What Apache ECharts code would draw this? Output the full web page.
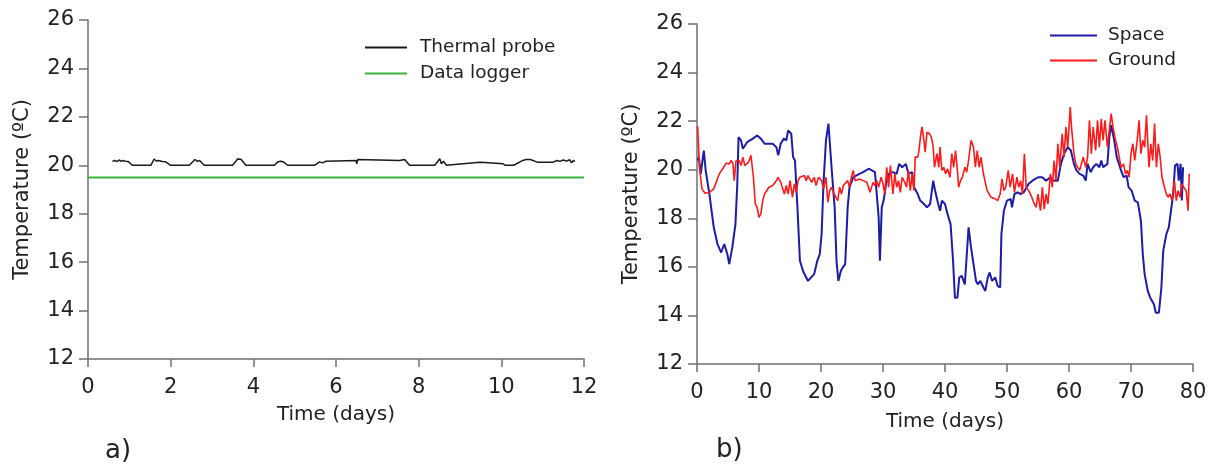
<!DOCTYPE html>
<html>
<head>
<meta charset="utf-8">
<script src="https://cdn.jsdelivr.net/npm/echarts@6/dist/echarts.min.js"></script>
<style>
html,body{margin:0;padding:0;background:#fff;}
#chart{width:1217px;height:468px;}
</style>
</head>
<body>
<div id="chart"></div>
<script>
// ---- Panel a) ----
const probeDays = [0.59,0.65,0.7,0.75,0.8,0.85,0.9,0.97,1.07,1.52,1.6,1.65,1.7,1.8,1.87,2.0,2.45,2.59,2.65,2.7,2.81,3.5,3.62,3.7,3.82,4.51,4.6,4.66,4.72,4.83,5.48,5.6,5.68,5.76,6.49,6.5,6.53,6.56,7.54,7.66,7.78,8.39,8.51,8.55,8.6,8.67,9.48,9.6,10.04,10.1,10.3,10.52,10.6,10.7,10.87,11.25,11.35,11.42,11.5,11.58,11.65,11.7,11.74,11.78];
const probeTemps = [20.16,20.2,20.15,20.22,20.16,20.2,20.17,20.16,20.0,20.0,20.26,20.18,20.2,20.16,20.15,20.0,20.0,20.24,20.16,20.2,20.0,20.0,20.26,20.25,20.0,20.0,20.15,20.17,20.15,20.0,20.0,20.14,20.1,20.17,20.2,20.06,20.24,20.18,20.2,20.24,20.0,20.0,20.27,20.06,20.17,20.0,20.13,20.12,20.06,20.0,20.0,20.2,20.24,20.24,20.13,20.13,20.2,20.16,20.22,20.17,20.23,20.1,20.2,20.15];
const loggerDays = [0, 12];
const loggerTemps = [19.5, 19.5];

// ---- Panel b) ----
const spaceDays = [0.1,0.3,0.6,1.1,1.4,2.0,2.7,3.3,3.9,4.4,4.9,5.2,5.7,6.2,6.5,6.7,7.1,7.4,8.1,9.0,9.7,10.3,10.9,12.2,12.8,13.1,13.5,14.0,14.4,14.7,15.2,15.5,15.8,16.2,16.6,17.1,17.9,18.9,19.4,19.8,20.1,20.4,20.8,21.2,21.7,22.2,22.5,22.8,23.2,23.5,23.9,24.3,24.6,25.2,26.2,26.8,27.7,28.7,29.0,29.3,29.5,29.8,30.1,30.5,30.9,31.6,32.2,32.6,33.1,33.7,34.1,34.7,35.0,35.6,36.0,36.6,37.1,37.6,38.1,38.4,38.9,39.2,39.5,40.0,40.4,40.9,41.3,41.6,42.0,42.3,42.7,43.2,43.5,43.8,44.2,44.6,45.0,45.3,45.7,46.2,46.5,46.9,47.2,47.6,48.1,48.5,48.9,49.1,49.5,50.0,50.6,50.8,51.2,51.7,52.2,52.7,53.5,54.1,55.0,55.7,56.3,57.0,57.6,58.2,58.7,59.2,59.8,60.3,60.8,61.2,61.7,62.3,62.7,63.0,63.5,63.9,64.4,64.9,65.2,65.5,66.2,66.5,66.8,67.3,67.7,68.4,68.8,69.3,69.6,70.1,70.6,71.1,71.6,71.9,72.2,72.7,73.1,73.7,74.0,74.5,74.9,75.2,75.7,76.1,76.4,76.8,77.1,77.5,77.7,78.0,78.2,78.4];
const spaceTemps = [20.38,20.52,19.83,20.79,19.97,19.0,17.63,16.94,16.59,16.94,16.52,16.11,16.8,17.76,19.42,21.34,21.21,20.86,21.14,21.28,21.41,21.28,21.07,21.07,20.93,20.59,21.07,21.28,21.21,21.62,21.48,20.52,20.38,18.45,16.25,15.83,15.42,15.7,16.25,16.52,17.35,19.42,21.21,21.9,20.1,18.45,16.25,15.42,15.83,15.97,16.11,18.45,19.28,19.69,19.83,19.9,20.04,19.9,19.83,18.04,16.25,18.45,18.73,19.42,19.83,19.9,19.83,20.24,20.1,20.24,19.83,19.9,19.28,19.0,18.73,18.59,18.45,18.59,19.55,19.14,18.59,18.31,18.73,18.59,18.18,17.76,16.25,14.73,14.73,15.56,15.63,15.28,15.28,17.63,16.8,16.11,15.42,15.28,15.42,15.15,15.01,15.56,15.77,15.42,15.56,15.21,15.15,17.35,18.31,18.73,18.8,18.45,19.0,19.07,19.0,19.07,19.42,19.55,19.69,19.69,19.55,19.69,19.55,19.55,20.24,20.66,20.93,20.79,20.24,19.97,19.83,19.76,19.55,20.24,19.9,20.1,20.24,20.1,20.38,20.1,20.24,21.34,21.83,21.21,20.52,19.97,19.69,19.76,19.28,19.14,18.73,18.66,17.9,16.52,15.7,15.01,14.73,14.46,14.11,14.11,15.15,16.66,17.35,17.63,17.56,19.0,20.17,20.24,19.55,20.24,18.73,20.1];
const groundDays = [0.1,0.4,0.8,1.3,2.0,2.7,3.2,3.6,4.3,4.7,5.2,5.5,5.8,6.0,6.3,6.8,7.1,7.4,7.7,8.3,8.7,8.9,9.1,9.4,9.7,10.0,10.3,10.6,10.9,11.6,12.2,12.8,13.1,13.5,13.8,14.1,14.4,14.7,15.0,15.4,15.7,16.0,16.3,16.6,17.3,17.6,17.9,18.2,18.5,18.9,19.2,19.6,20.1,20.4,20.8,21.1,21.4,21.7,22.0,22.3,22.7,23.0,23.3,23.6,23.9,24.3,24.6,24.9,25.2,25.5,26.2,26.8,27.4,27.9,28.4,28.7,29.0,29.3,29.7,30.0,30.3,30.6,30.9,31.2,31.6,31.9,32.2,32.5,32.8,33.1,33.5,33.8,34.1,34.4,34.7,35.0,35.2,35.6,35.8,36.1,36.3,36.6,36.8,37.1,37.5,37.8,38.1,38.3,38.7,39.0,39.2,39.5,39.8,40.1,40.4,40.8,41.1,41.4,41.7,42.0,42.2,42.5,42.8,43.2,43.5,43.8,44.2,44.6,44.9,45.2,45.5,45.8,46.2,46.5,46.8,47.4,48.1,48.5,48.9,49.2,49.5,49.8,50.2,50.5,50.9,51.2,51.6,51.9,52.2,52.5,52.8,53.1,53.5,54.0,54.4,54.7,55.0,55.4,55.7,56.0,56.3,56.6,57.0,57.3,57.6,57.9,58.2,58.5,58.9,59.2,59.5,59.8,60.2,60.4,60.8,61.1,61.4,61.7,62.0,62.3,62.7,63.0,63.3,63.6,63.9,64.3,64.6,64.9,65.2,65.5,65.8,66.2,66.5,66.8,67.1,67.4,67.8,68.1,68.4,68.8,69.1,69.4,69.7,70.0,70.3,70.6,71.0,71.3,71.6,71.9,72.2,72.5,72.9,73.2,73.5,73.8,74.1,74.4,74.7,75.0,75.4,75.7,76.0,76.3,76.6,77.0,77.3,77.6,77.9,78.2,78.5,78.9,79.2,79.4];
const groundTemps = [21.79,20.1,19.21,19.03,19.07,19.21,19.55,19.83,20.1,20.27,20.24,20.38,20.24,19.55,20.38,20.38,20.17,20.52,20.17,20.31,20.59,20.66,19.69,18.59,18.45,18.04,18.18,18.73,19.0,19.28,19.35,19.55,19.69,19.48,19.42,19.0,19.35,19.0,19.55,18.87,19.42,19.07,19.55,19.69,19.76,19.55,19.76,19.83,19.48,19.69,19.35,19.69,19.55,19.21,19.69,18.66,19.14,19.28,19.07,19.07,18.73,19.28,19.0,19.35,19.28,19.55,19.28,19.69,19.97,19.55,19.62,19.55,19.48,19.07,19.48,19.35,19.55,19.28,19.69,19.42,19.0,20.1,19.28,20.17,19.0,19.83,19.28,19.55,19.07,19.69,19.48,19.28,19.97,19.14,19.83,19.14,20.52,20.52,20.79,21.48,21.76,21.21,20.72,21.55,21.48,21.34,20.93,20.1,20.66,20.1,20.93,19.97,20.1,19.83,20.04,19.69,20.66,20.1,20.79,19.97,19.28,19.55,19.69,20.1,19.9,20.38,21.21,20.93,20.1,20.79,20.1,20.52,19.83,19.48,19.14,18.87,18.8,18.73,19.0,19.62,19.14,19.28,19.97,19.28,19.83,19.07,19.69,19.28,19.55,19.0,20.66,19.28,19.14,18.87,18.59,18.45,19.0,18.31,19.28,18.38,19.0,18.59,19.83,19.28,20.38,19.55,21.07,20.1,21.48,20.52,21.76,20.93,22.58,21.76,20.66,20.24,20.1,19.97,20.24,20.52,20.1,20.52,22.03,20.66,21.76,20.79,22.03,20.93,22.1,21.21,22.03,20.93,21.62,22.31,21.76,21.34,20.93,20.52,20.1,20.24,19.83,19.97,19.69,20.66,21.07,20.38,21.21,22.03,20.66,21.21,20.93,22.24,20.1,21.07,20.38,21.9,20.1,21.07,20.52,19.69,19.28,19.0,18.87,19.0,18.73,19.55,18.73,19.14,18.87,19.42,19.28,19.14,18.31,19.83];

const yTicks = [12,14,16,18,20,22,24,26];

function zip(a, b){ return a.map((v,i)=>[v,b[i]]); }

const FONT = 'DejaVu Sans';
const axisColor = '#707070';
const textColor = '#222';

function yAxis(gridIndex){
  return {
    type:'value', gridIndex, min:yTicks[0], max:yTicks[yTicks.length-1], interval:2,
    name:'Temperature (ºC)', nameLocation:'middle', nameGap:55,
    nameTextStyle:{fontFamily:FONT,fontSize:21,color:textColor},
    axisLine:{show:true,lineStyle:{color:axisColor,width:1.5}},
    axisTick:{show:true,inside:false,length:9,lineStyle:{color:axisColor,width:1.5}},
    axisLabel:{fontFamily:FONT,fontSize:21,color:textColor,margin:14},
    splitLine:{show:false}
  };
}
function xAxis(gridIndex, max, interval, nameGap){
  return {
    type:'value', gridIndex, min:0, max, interval,
    name:'Time (days)', nameLocation:'middle', nameGap,
    nameTextStyle:{fontFamily:FONT,fontSize:20,color:textColor},
    axisLine:{show:true,onZero:false,lineStyle:{color:axisColor,width:1.5}},
    axisTick:{show:true,inside:false,length:8,lineStyle:{color:axisColor,width:1.5}},
    axisLabel:{fontFamily:FONT,fontSize:21,color:textColor,margin:18},
    splitLine:{show:false}
  };
}

const chart = echarts.init(document.getElementById('chart'), null, {renderer:'canvas'});
chart.setOption({
  animation:false,
  backgroundColor:'#fff',
  grid:[
    {left:88, top:20, width:496, height:339},
    {left:697, top:24, width:496, height:340}
  ],
  xAxis:[xAxis(0,12,2,46), xAxis(1,80,10,48)],
  yAxis:[yAxis(0), yAxis(1)],
  legend:[
    {data:['Thermal probe','Data logger'], left:365, top:38, orient:'vertical', padding:0,
     itemWidth:42, itemHeight:14, itemGap:7, icon:'path://M0,6h42v2h-42z',
     textStyle:{fontFamily:FONT,fontSize:18.5,color:textColor,padding:[0,0,0,8]}},
    {data:['Space','Ground'], left:1050, top:26, orient:'vertical', padding:0,
     itemWidth:47, itemHeight:14, itemGap:6, icon:'path://M0,6h47v2h-47z',
     textStyle:{fontFamily:FONT,fontSize:18.5,color:textColor,padding:[0,0,0,6]}}
  ],
  graphic:[
    {type:'text', left:105, top:438, style:{text:'a)', fontFamily:FONT, fontSize:26, fill:textColor}},
    {type:'text', left:716, top:437, style:{text:'b)', fontFamily:FONT, fontSize:26, fill:textColor}}
  ],
  series:[
    {name:'Thermal probe', type:'line', xAxisIndex:0, yAxisIndex:0, data:zip(probeDays,probeTemps),
     symbol:'none', lineStyle:{color:'#1a1a1a',width:1.5}, itemStyle:{color:'#1a1a1a'}},
    {name:'Data logger', type:'line', xAxisIndex:0, yAxisIndex:0, data:zip(loggerDays,loggerTemps),
     symbol:'none', lineStyle:{color:'#3cb23c',width:2}, itemStyle:{color:'#3cb23c'}},
    {name:'Space', type:'line', xAxisIndex:1, yAxisIndex:1, data:zip(spaceDays,spaceTemps),
     symbol:'none', lineStyle:{color:'#1c1ca6',width:2}, itemStyle:{color:'#1c1ca6'}},
    {name:'Ground', type:'line', xAxisIndex:1, yAxisIndex:1, data:zip(groundDays,groundTemps),
     symbol:'none', lineStyle:{color:'#ff1a1a',width:1.6}, itemStyle:{color:'#ff1a1a'}}
  ]
});
</script>
</body>
</html>
